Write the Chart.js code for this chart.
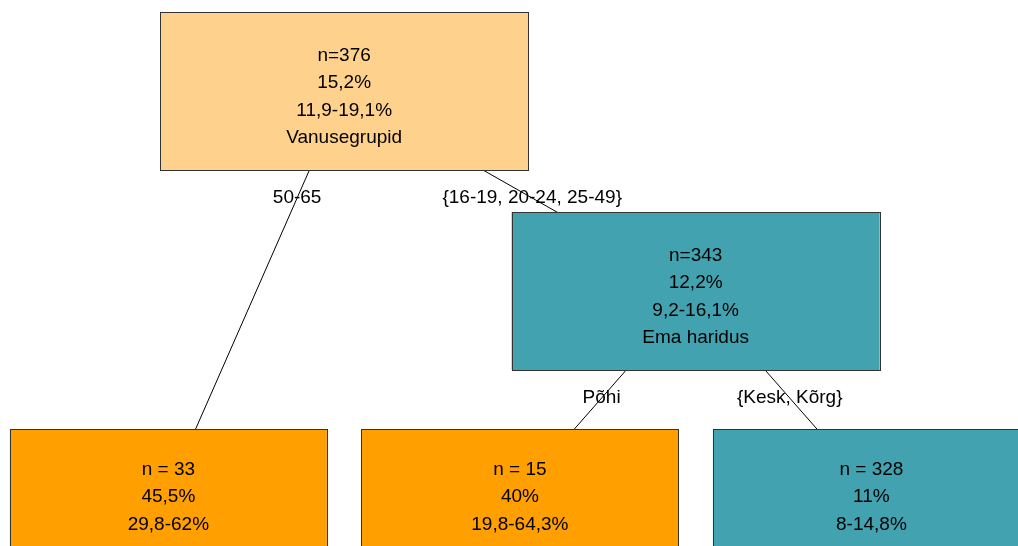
<!DOCTYPE html>
<html>
<head>
<meta charset="utf-8">
<script src="https://cdn.jsdelivr.net/npm/chart.js@4/dist/chart.umd.min.js"></script>
<style>
  html, body { margin: 0; padding: 0; background: #fff; }
  #box { width: 1018px; height: 546px; }
</style>
</head>
<body>
<div id="box"><canvas id="tree"></canvas></div>
<script>
// tree nodes (0 = root)
const nodeN = [376, 343, 33, 15, 328];
const nodePct = [15.2, 12.2, 45.5, 40, 11];
const ciLow = [11.9, 9.2, 29.8, 19.8, 8];
const ciHigh = [19.1, 16.1, 62, 64.3, 14.8];
const splitVar = ['Vanusegrupid', 'Ema haridus', null, null, null];
const children = [[2, 1], [3, 4], [], [], []];
const edgeLabels = [null, '{16-19, 20-24, 25-49}', '50-65', 'Põhi', '{Kesk, Kõrg}'];

const fillColors = ['#FED18D', '#43A2B0', '#FF9F00', '#FF9F00', '#43A2B0'];

function fmt(v) { return String(v).replace('.', ','); }

// layout: terminal nodes on the bottom row in consecutive slots,
// inner nodes sit between the last leaf of the first child and the first leaf of the last child
const posX = [], posY = [], leafMin = [], leafMax = [];
let slot = 0;
function depthOf(i) {
	if (children[i].length == 0) return 0;
	return 1 + Math.max.apply(null, children[i].map(depthOf));
}
const maxDepth = depthOf(0);
function place(i, depth) {
	if (children[i].length == 0) {
		posX[i] = leafMin[i] = leafMax[i] = slot++;
		posY[i] = maxDepth;
		return;
	}
	posY[i] = depth;
	children[i].forEach(function (c) { place(c, depth + 1); });
	const first = children[i][0], last = children[i][children[i].length - 1];
	leafMin[i] = leafMin[first];
	leafMax[i] = leafMax[last];
	posX[i] = (leafMax[first] + leafMin[last]) / 2;
}
place(0, 0);

const edgeSets = [];
children.forEach(function (kids, p) {
	kids.forEach(function (c) {
		edgeSets.push({
			data: [{x: posX[p], y: posY[p]}, {x: posX[c], y: posY[c]}],
			showLine: true,
			borderColor: '#000',
			borderWidth: 1,
			pointRadius: 0,
			edge: [p, c]
		});
	});
});

const boxPlugin = {
	id: 'boxes',
	afterDatasetsDraw: function (chart) {
		const ctx = chart.ctx, sx = chart.scales.x, sy = chart.scales.y;
		ctx.save();
		ctx.font = '19px "Liberation Sans", Arial, sans-serif';
		ctx.textAlign = 'center';
		ctx.textBaseline = 'middle';
		// edge labels
		ctx.fillStyle = '#000';
		chart.data.datasets.forEach(function (ds) {
			const p = ds.edge[0], c = ds.edge[1];
			const x0 = sx.getPixelForValue(posX[p]), y0 = sy.getPixelForValue(posY[p]);
			const x1 = sx.getPixelForValue(posX[c]), y1 = sy.getPixelForValue(posY[c]);
			const ly = y0 + 107;
			const lx = x0 + (x1 - x0) * (ly - y0) / (y1 - y0);
			ctx.fillText(edgeLabels[c], lx, ly);
		});
		// node boxes
		for (let i = 0; i < nodeN.length; i++) {
			const leaf = children[i].length == 0;
			const w = leaf ? 317 : 368, h = leaf ? 124 : 158;
			const cx = sx.getPixelForValue(posX[i]), cy = sy.getPixelForValue(posY[i]);
			ctx.fillStyle = fillColors[i];
			ctx.fillRect(cx - w / 2, cy - h / 2, w, h);
			ctx.strokeStyle = '#333';
			ctx.lineWidth = 1;
			ctx.strokeRect(Math.round(cx - w / 2) + 0.5, Math.round(cy - h / 2) + 0.5, w, h);
			const lines = [
				(leaf ? 'n = ' : 'n=') + nodeN[i],
				fmt(nodePct[i]) + '%',
				fmt(ciLow[i]) + '-' + fmt(ciHigh[i]) + '%'
			];
			if (splitVar[i]) lines.push(splitVar[i]);
			ctx.fillStyle = '#000';
			const step = 27.5;
			lines.forEach(function (t, k) {
				ctx.fillText(t, cx, cy + 6 + (k - (lines.length - 1) / 2) * step);
			});
		}
		ctx.restore();
	}
};

new Chart(document.getElementById("tree"), {
	type: 'scatter',
	data: { datasets: edgeSets },
	options: {
		responsive: true,
		maintainAspectRatio: false,
		animation: false,
		layout: { padding: 0 },
		plugins: { legend: { display: false }, tooltip: { enabled: false } },
		scales: {
			x: { display: false, min: -0.479, max: 2.417 },
			y: { display: false, reverse: true, min: -0.455, max: 2.275 }
		}
	},
	plugins: [boxPlugin]
});
</script>
</body>
</html>
